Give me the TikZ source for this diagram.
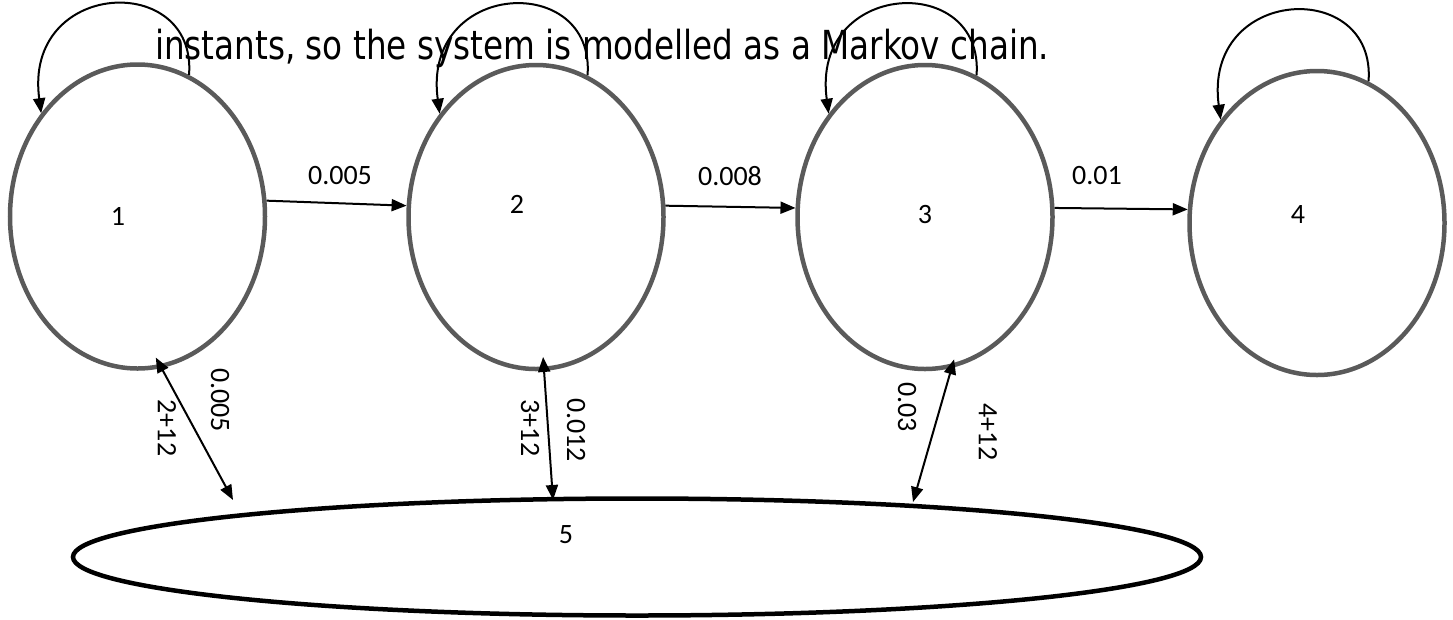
\documentclass[tikz,border=0pt]{standalone}
\usepackage{graphicx}
\usepackage{fontspec}
\setmainfont{Carlito}
\newfontfamily\headfont{DejaVu Sans Condensed}
\usetikzlibrary{arrows.meta,shapes.geometric}
\definecolor{stategray}{RGB}{90,90,90}
\begin{document}
\begin{tikzpicture}[x=1pt,y=-1pt,
  state/.style={ellipse, draw=stategray, line width=4.5pt,
    minimum width=255pt, minimum height=304pt, inner sep=0pt},
  sink/.style={ellipse, draw=black, line width=4.5pt,
    minimum width=1128pt, minimum height=117pt, inner sep=0pt},
  txt/.style={font=\fontsize{28}{30}\selectfont, inner sep=0pt},
  vtxt/.style={txt, rotate=-90},
  fwd/.style={line width=2pt, -{Triangle[length=15pt,width=12pt]}},
  both/.style={line width=2pt,
    {Triangle[length=15pt,width=12pt]}-{Triangle[length=15pt,width=12pt]}},
  selfloop/.style={line width=2pt, -{Triangle[length=15pt,width=12pt]}}
]
\useasboundingbox (0,0) rectangle (1453,619);

% heading line
\node[anchor=base west, inner sep=0pt, font=\headfont\fontsize{40}{44}\selectfont]
  (title) at (155,59)
  {\resizebox{894pt}{\height}{instants, so the system is modelled as a Markov chain.}};

% states
\node[state] (e1) at (137.5,216.5) {};
\node[state] (e2) at (536,217) {};
\node[state] (e3) at (925,217) {};
\node[state] (e4) at (1317,223) {};
\node[sink]  (e5) at (637,557) {};

% state numbers
\node[txt] (n1) at (118,216) {1};
\node[txt] (n2) at (517,204) {2};
\node[txt] (n3) at (925,215) {3};
\node[txt] (n4) at (1298,215) {4};
\node[txt] (n5) at (566,535) {5};

% self loops
\foreach \s in {e1,e2,e3,e4}
  \draw[selfloop] (\s.70) .. controls +(8,-104) and +(-18,-134) .. (\s.133);

% forward transitions
\draw[fwd] (e1.7) -- (e2.175.5);
\draw[fwd] (e2.5.4) -- (e3.176.8);
\draw[fwd] (e3.4) -- (e4.174);
\node[txt] (p12) at (340,176) {0.005};
\node[txt] (p23) at (730,176) {0.008};
\node[txt] (p34) at (1097,176) {0.01};

% transitions to and from state 5
\coordinate (q1) at (233,500);
\coordinate (q2) at (553,500);
\coordinate (q3) at (913,502);
\draw[both, shorten <=-12pt] (e1.-81) -- (q1);
\draw[both, shorten <=-14pt] (e2.-87.6) -- (q2);
\draw[both, shorten <=-9pt] (e3.-80.8) -- (q3);

\node[vtxt] (r1a) at (167,428) {2+12};
\node[vtxt] (r1b) at (220,400) {0.005};
\node[vtxt] (r2a) at (530,428) {3+12};
\node[vtxt] (r2b) at (576,430) {0.012};
\node[vtxt] (r3a) at (907,407) {0.03};
\node[vtxt] (r3b) at (988,432) {4+12};
\end{tikzpicture}
\end{document}
